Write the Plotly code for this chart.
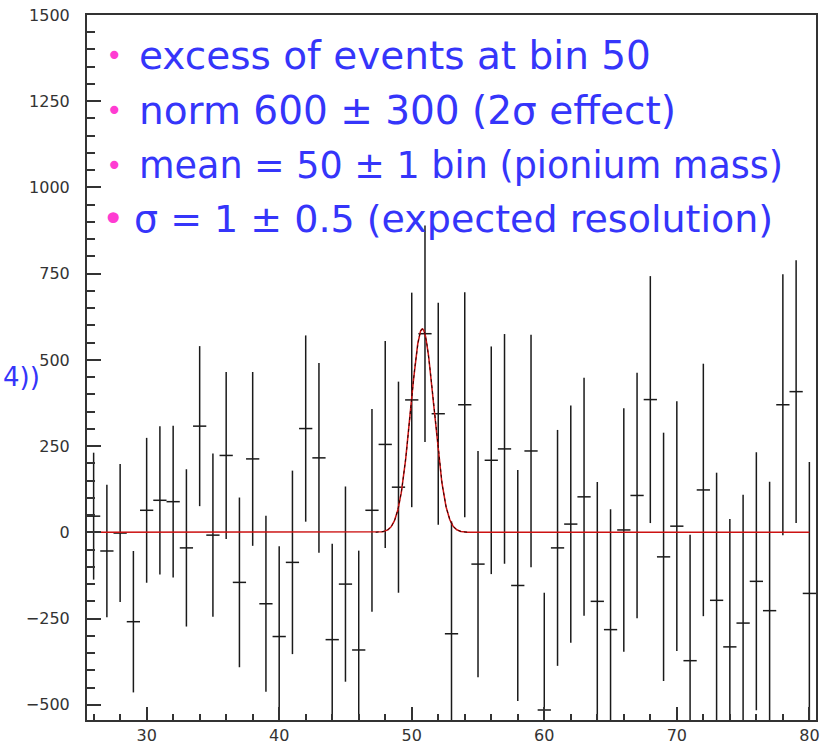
import numpy as np
import plotly.graph_objects as go

# Histogram contents: bin centres, contents and symmetric errors
bins = list(range(26, 81))
counts = [47, -54, -2, -259, 64, 93, 89, -45, 308, -8,
          223, -145, 213, -207, -302, -87, 301, 216, -311, -150,
          -341, 64, 255, 131, 384, 576, 344, -294, 370, -92,
          209, 242, -154, 236, -515, -45, 24, 103, -200, -282,
          7, 107, 385, -71, 18, -372, 123, -197, -332, -263,
          -142, -227, 370, 408, -177]
errors = [184, 192, 200, 205, 210, 215, 220, 228, 232, 237,
          242, 246, 252, 255, 262, 266, 270, 275, 278, 283,
          288, 294, 300, 306, 311, 314, 322, 326, 326, 328,
          330, 333, 335, 337, 340, 342, 344, 345, 346, 349,
          353, 356, 358, 360, 362, 365, 366, 370, 371, 372,
          374, 374, 378, 381, 381]
bin_width = 1.0

# Gaussian fit parameters
fit_norm = 590.0
fit_mean = 50.8
fit_sigma = 0.88
fit_range = (26.0, 80.0)

x_ticks = [30, 40, 50, 60, 70, 80]
y_ticks = [-500, -250, 0, 250, 500, 750, 1000, 1250, 1500]

notes = [
    "excess of events at bin 50",
    "norm 600 \u00b1 300 (2\u03c3 effect)",
    "mean = 50 \u00b1 1 bin (pionium mass)",
    "\u03c3 = 1 \u00b1 0.5 (expected resolution)",
]
side_note = "4))"

TEXT_BLUE = "#3535fa"
BULLET_PINK = "#ff3cd2"
AXIS_COL = "#333333"

xf = np.linspace(fit_range[0], fit_range[1], 2701)
yf = fit_norm * np.exp(-0.5 * ((xf - fit_mean) / fit_sigma) ** 2)

fig = go.Figure()

fig.add_trace(go.Scatter(
    x=bins, y=counts, mode="markers",
    marker=dict(size=0.1, color="#1a1a1a", opacity=0),
    error_y=dict(type="data", array=errors, symmetric=True,
                 color="#1a1a1a", thickness=1.5, width=0),
    error_x=dict(type="constant", value=bin_width / 2,
                 color="#1a1a1a", thickness=1.5, width=0),
    showlegend=False, hoverinfo="skip",
))

fig.add_trace(go.Scatter(
    x=xf, y=yf, mode="lines",
    line=dict(color="#cc1111", width=1.5),
    showlegend=False, hoverinfo="skip",
))

# darker dotted trace over the peak of the fitted function
peak = (xf > fit_mean - 4 * fit_sigma) & (xf < fit_mean + 4 * fit_sigma)
fig.add_trace(go.Scatter(
    x=xf[peak], y=yf[peak], mode="lines",
    line=dict(color="#2a0000", width=1, dash="dot"),
    showlegend=False, hoverinfo="skip",
))

# text block: bullets + lines
line_y = [0.943, 0.865, 0.787, 0.711]
bullet_x = [0.038, 0.038, 0.038, 0.036]
text_x = [0.069, 0.069, 0.069, 0.062]
bullet_size = [28, 28, 28, 38]
text_size = [39, 39, 36.5, 38]
annotations = []
for i, txt in enumerate(notes):
    annotations.append(dict(
        x=bullet_x[i], y=line_y[i], xref="paper", yref="paper",
        text="\u2022", showarrow=False, xanchor="center", yanchor="middle",
        font=dict(size=bullet_size[i], color=BULLET_PINK, family="DejaVu Sans"),
    ))
    annotations.append(dict(
        x=text_x[i], y=line_y[i], xref="paper", yref="paper",
        text=txt, showarrow=False, xanchor="left", yanchor="middle",
        font=dict(size=text_size[i], color=TEXT_BLUE, family="DejaVu Sans"),
    ))
annotations.append(dict(
    x=-0.118, y=0.487, xref="paper", yref="paper",
    text=side_note, showarrow=False, xanchor="left", yanchor="middle",
    font=dict(size=26, color=TEXT_BLUE, family="DejaVu Sans"),
))

tick_font = dict(family="DejaVu Sans", size=16, color=AXIS_COL)

fig.update_layout(
    width=825, height=744,
    margin=dict(l=87, r=9, t=15, b=24),
    paper_bgcolor="white", plot_bgcolor="white",
    annotations=annotations,
    xaxis=dict(
        range=[25.5, 80.5], tickmode="array", tickvals=x_ticks,
        ticktext=[str(v) for v in x_ticks],
        ticks="inside", ticklen=13, tickwidth=1.5, tickcolor=AXIS_COL,
        minor=dict(dtick=2, tick0=0, ticks="inside", ticklen=6,
                   tickwidth=1.5, tickcolor=AXIS_COL),
        showline=True, linecolor=AXIS_COL, linewidth=2, mirror=True,
        showgrid=False, zeroline=False, tickfont=tick_font,
        automargin=False,
    ),
    yaxis=dict(
        range=[-544, 1500], tickmode="array", tickvals=y_ticks,
        ticktext=[str(v).replace("-", "\u2212") for v in y_ticks],
        ticks="inside", ticklen=14, tickwidth=1.5, tickcolor=AXIS_COL,
        minor=dict(dtick=50, tick0=0, ticks="inside", ticklen=8,
                   tickwidth=1.5, tickcolor=AXIS_COL),
        showline=True, linecolor=AXIS_COL, linewidth=2, mirror=True,
        showgrid=False, zeroline=False, tickfont=tick_font,
        ticklabelstandoff=12, automargin=False,
    ),
)

fig.write_html("out.html")
